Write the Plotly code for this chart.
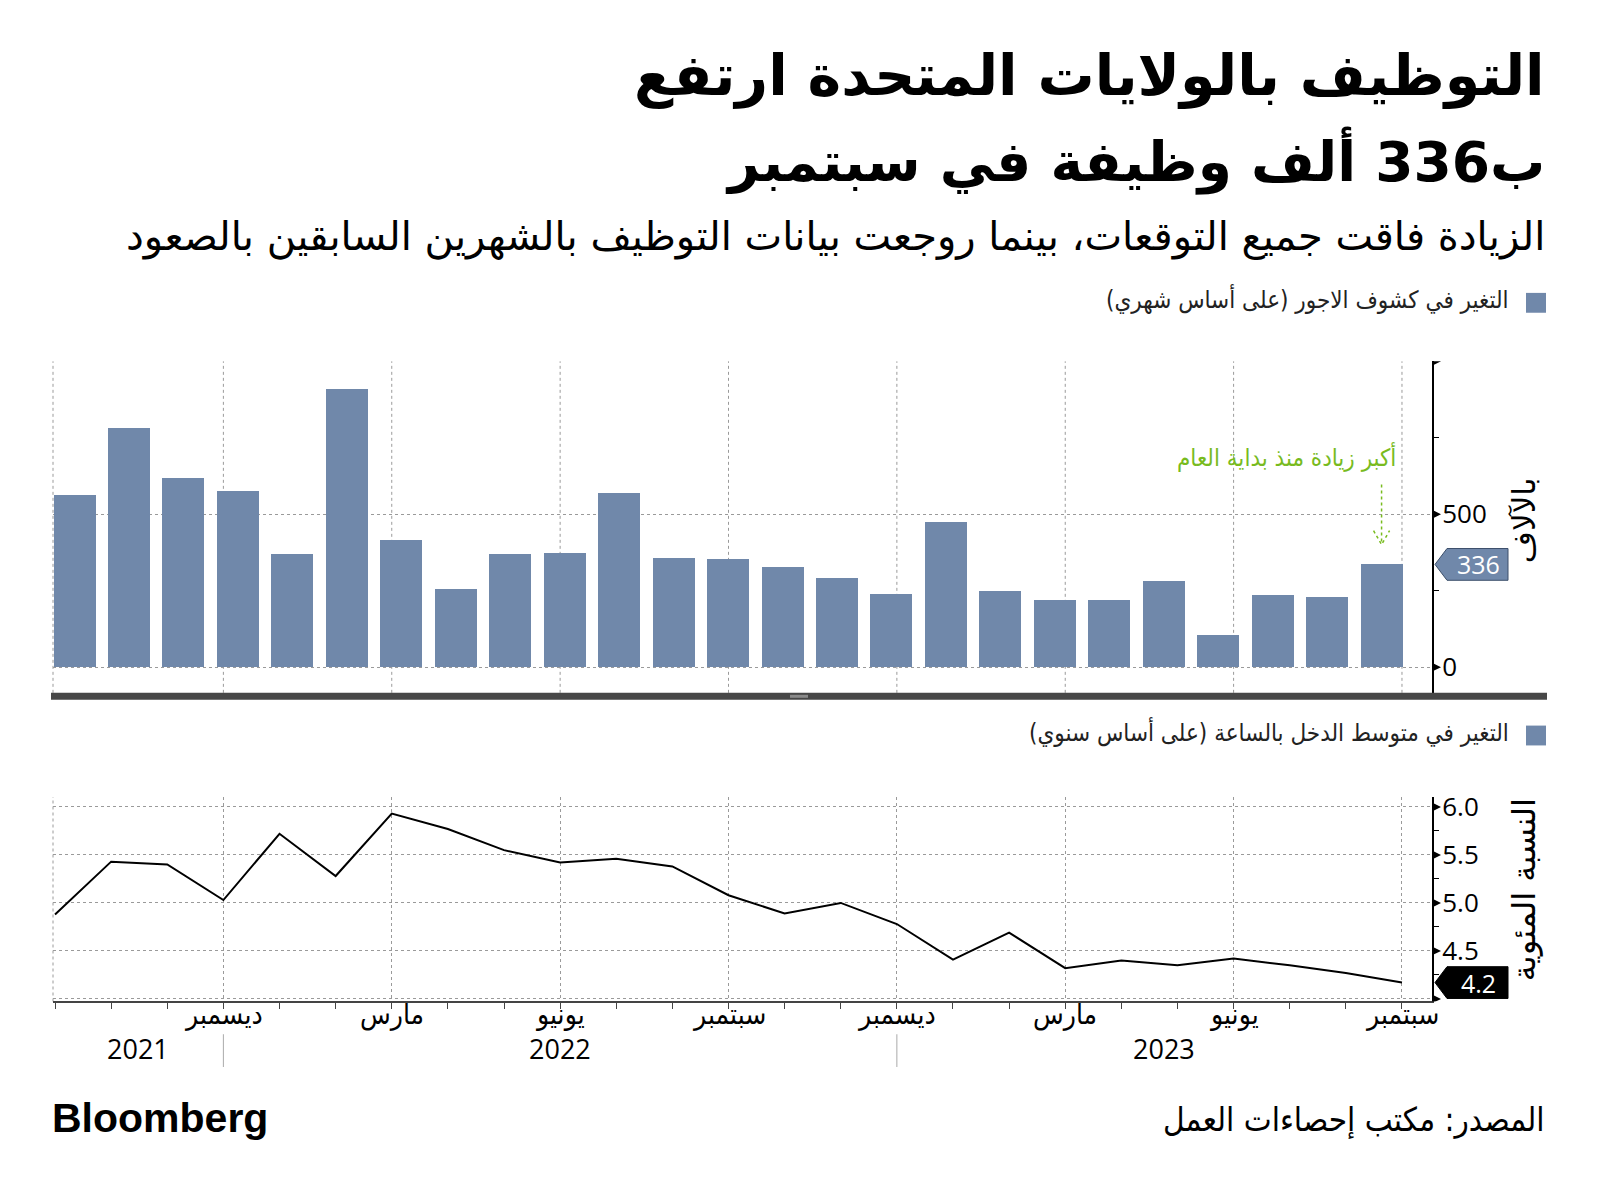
import plotly.graph_objects as go

# ---------------- data ----------------
months_idx = list(range(25))  # Sep 2021 .. Sep 2023
payrolls = [562, 782, 618, 575, 368, 909, 416, 254, 368, 372, 569, 356, 351,
            327, 291, 238, 472, 248, 217, 217, 281, 105, 236, 227, 336]
wages = [4.88, 5.43, 5.40, 5.03, 5.72, 5.28, 5.93, 5.77, 5.55, 5.42, 5.46, 5.38,
         5.08, 4.89, 5.00, 4.78, 4.41, 4.69, 4.32, 4.40, 4.35, 4.42, 4.35, 4.27, 4.17]
quarter_ticks = [3, 6, 9, 12, 15, 18, 21, 24]
quarter_labels = ["ديسمبر", "مارس", "يونيو", "سبتمبر", "ديسمبر", "مارس", "يونيو", "سبتمبر"]
year_labels = ["2021", "2022", "2023"]
year_breaks = [3, 15]

title1 = "التوظيف بالولايات المتحدة ارتفع"
title2 = "ب336 ألف وظيفة في سبتمبر"
subtitle = "الزيادة فاقت جميع التوقعات، بينما روجعت بيانات التوظيف بالشهرين السابقين بالصعود"
legend1 = "التغير في كشوف الاجور (على أساس شهري)"
legend2 = "التغير في متوسط الدخل بالساعة (على أساس سنوي)"
note = "أكبر زيادة منذ بداية العام"
ytitle1 = "بالآلاف"
ytitle2 = "النسبة المئوية"
source = "المصدر: مكتب إحصاءات العمل"

# ---------------- style / layout ----------------
OFF = 8                       # page body margin of the html page
W, H = 1600 - OFF, 1196 - OFF
BAR = "#7088aa"
GRID = "#9a9a9a"
GREEN = "#78bb1e"
AR = "DejaVu Sans"
ARC = "DejaVu Sans Condensed, DejaVu Sans"
NUM = "Open Sans, DejaVu Sans Condensed"

def X(px):
    return (px - OFF) / W

def Y(py):
    return 1 - (py - OFF) / H

PL, PR = 53, 1432
T_TOP, T_BOT = 355, 689
B_TOP, B_BOT = 794, 1000
t_range = [-84, 1000]
b_range = [3.973, 6.103]
x1_range = [-0.395, 24.926]
x2_range = [-0.036, 24.535]
t_ppu = (T_BOT - T_TOP) / (t_range[1] - t_range[0])
b_ppu = (B_BOT - B_TOP) / (b_range[1] - b_range[0])
x1_ppu = (PR - PL) / (x1_range[1] - x1_range[0])

fig = go.Figure()
fig.add_trace(go.Bar(x=months_idx, y=payrolls, width=0.771, marker=dict(color=BAR, line=dict(width=0)),
                     xaxis="x", yaxis="y", hoverinfo="y"))
fig.add_trace(go.Scatter(x=months_idx, y=wages, mode="lines", line=dict(color="black", width=2),
                         xaxis="x2", yaxis="y2", hoverinfo="y"))

shapes = []
ann = []

# top chart vertical gridlines (aligned to the month axis of the lower chart)
for q in quarter_ticks:
    shapes.append(dict(type="line", xref="x2", yref="paper", x0=q, x1=q, y0=Y(T_BOT), y1=Y(T_TOP),
                       line=dict(color=GRID, width=1, dash="dot"), layer="below"))
# left edges dotted
for (a, b) in [(T_TOP, T_BOT), (B_TOP, B_BOT)]:
    shapes.append(dict(type="line", xref="paper", yref="paper", x0=X(PL), x1=X(PL), y0=Y(b), y1=Y(a),
                       line=dict(color=GRID, width=1, dash="dot"), layer="below"))

# separator bar
shapes.append(dict(type="rect", xref="paper", yref="paper", x0=X(51), x1=X(1547), y0=Y(696), y1=Y(689),
                   fillcolor="#474747", line=dict(width=0), layer="above"))
shapes.append(dict(type="rect", xref="paper", yref="paper", x0=X(790), x1=X(808), y0=Y(694), y1=Y(691),
                   fillcolor="#8a8a8a", line=dict(width=0), layer="above"))

# tick triangles on the right axes
def tri(yref, val, ppu):
    d = 4.5 / ppu
    return dict(type="path", xref="paper", yref=yref,
                path=f"M {X(PR)},{val - d} L {X(PR + 9)},{val} L {X(PR)},{val + d} Z",
                fillcolor="black", line=dict(width=0), layer="above")

for v in [0, 500, 1000]:
    shapes.append(tri("y", v, t_ppu))
for v in [4.0, 4.5, 5.0, 5.5, 6.0]:
    shapes.append(tri("y2", v, b_ppu))

# value tags
def tag(yref, val, ppu, color):
    h = 16 / ppu
    return dict(type="path", xref="paper", yref=yref,
                path=(f"M {X(1435)},{val} L {X(1447)},{val + h} L {X(1508)},{val + h} "
                      f"L {X(1508)},{val - h} L {X(1447)},{val - h} Z"),
                fillcolor=color, line=dict(color="#3c4f6a" if color == BAR else "black", width=1),
                layer="above")

shapes.append(tag("y", payrolls[-1], t_ppu, BAR))
shapes.append(tag("y2", wages[-1], b_ppu, "black"))
ann.append(dict(xref="paper", yref="y", x=X(1478), y=payrolls[-1], text=str(payrolls[-1]),
                showarrow=False, font=dict(family=NUM, size=25, color="white"), xanchor="center",
                yanchor="middle"))
ann.append(dict(xref="paper", yref="y2", x=X(1478), y=wages[-1], text=f"{wages[-1]:.1f}",
                showarrow=False, font=dict(family=NUM, size=25, color="white"), xanchor="center",
                yanchor="middle"))

# green note + dotted arrow pointing to last bar
last = months_idx[-1]
y_a0 = (664 - 480) / t_ppu
y_a1 = payrolls[-1] + 20 / t_ppu
dx = 8 / x1_ppu
dy = 14 / t_ppu
shapes.append(dict(type="path", xref="x", yref="y",
                   path=f"M {last},{y_a0} L {last},{y_a1}",
                   line=dict(color=GREEN, width=1.5, dash="dot")))
shapes.append(dict(type="path", xref="x", yref="y",
                   path=f"M {last - dx},{y_a1 + dy} L {last},{y_a1} L {last + dx},{y_a1 + dy}",
                   line=dict(color=GREEN, width=1.5, dash="dot")))
ann.append(dict(xref="x", yref="y", x=last + 0.31, y=(664 - 452) / t_ppu, text=note, showarrow=False,
                xanchor="right", yanchor="middle", font=dict(family=ARC, size=24, color=GREEN)))

# month labels (drawn as text under the axis)
for q, lab in zip(quarter_ticks, quarter_labels):
    ann.append(dict(xref="x2", yref="paper", x=q, y=Y(1013), text=lab, showarrow=False,
                    xanchor="center", yanchor="middle", font=dict(family=ARC, size=28, color="black")))

# year separators and labels
for b in year_breaks:
    shapes.append(dict(type="line", xref="x2", yref="paper", x0=b, x1=b, y0=Y(1066), y1=Y(1033),
                       line=dict(color="#aaaaaa", width=1)))
edges = [x2_range[0]] + year_breaks + [x2_range[1]]
for i, yl in enumerate(year_labels):
    ann.append(dict(xref="x2", yref="paper", x=(edges[i] + edges[i + 1]) / 2, y=Y(1047), text=yl,
                    showarrow=False, xanchor="center", yanchor="middle",
                    font=dict(family=NUM, size=27, color="black")))

# legends (custom, square on the right)
for (txt, yc) in [(legend1, 296), (legend2, 732)]:
    shapes.append(dict(type="rect", xref="paper", yref="paper", x0=X(1526), x1=X(1546),
                       y0=Y(yc + 10), y1=Y(yc - 10), fillcolor=BAR, line=dict(width=0)))
    ann.append(dict(xref="paper", yref="paper", x=X(1511), y=Y(yc - 4), text=txt, showarrow=False,
                    xanchor="right", yanchor="middle", font=dict(family=ARC, size=24, color="#222")))

# y-axis titles (rotated)
ann.append(dict(xref="paper", yref="paper", x=X(1524), y=Y(515), text=ytitle1, textangle=-90,
                showarrow=False, xanchor="center", yanchor="middle",
                font=dict(family=AR, size=31, color="black")))
ann.append(dict(xref="paper", yref="paper", x=X(1524), y=Y(888), text=ytitle2, textangle=-90,
                showarrow=False, xanchor="center", yanchor="middle",
                font=dict(family=AR, size=32, color="black")))

# titles
ann.append(dict(xref="paper", yref="paper", x=X(1547), y=Y(67), text=f"<b>{title1}</b>", showarrow=False,
                xanchor="right", yanchor="middle", font=dict(family=AR, size=57, color="black")))
ann.append(dict(xref="paper", yref="paper", x=X(1547), y=Y(153), text=f"<b>{title2}</b>", showarrow=False,
                xanchor="right", yanchor="middle", font=dict(family=AR, size=55, color="black")))
ann.append(dict(xref="paper", yref="paper", x=X(1547), y=Y(229), text=subtitle, showarrow=False,
                xanchor="right", yanchor="middle", font=dict(family=AR, size=40, color="black")))

# footer
ann.append(dict(xref="paper", yref="paper", x=X(50), y=Y(1117), text="<b>Bloomberg</b>", showarrow=False,
                xanchor="left", yanchor="middle",
                font=dict(family="Liberation Sans, Arial", size=41, color="black")))
ann.append(dict(xref="paper", yref="paper", x=X(1547), y=Y(1119), text=source, showarrow=False,
                xanchor="right", yanchor="middle", font=dict(family=ARC, size=33, color="black")))

fig.update_layout(
    width=W, height=H, margin=dict(l=0, r=0, t=0, b=0),
    paper_bgcolor="white", plot_bgcolor="white", showlegend=False, bargap=0,
    xaxis=dict(domain=[X(PL), X(PR)], range=x1_range, anchor="y", visible=False, fixedrange=True),
    yaxis=dict(domain=[Y(T_BOT), Y(T_TOP)], range=t_range, anchor="x", side="right",
               tickvals=[0, 500], showgrid=True, gridcolor=GRID, griddash="dot", gridwidth=1,
               zeroline=False, showline=True, linecolor="black", linewidth=2, ticks="",
               ticklabelstandoff=3, tickfont=dict(family=NUM, size=26, color="black"),
               minor=dict(tickvals=[250, 750], ticks="outside", ticklen=5, tickcolor="black",
                          showgrid=False)),
    xaxis2=dict(domain=[X(PL), X(PR)], range=x2_range, anchor="y2", tickvals=quarter_ticks,
                ticktext=[""] * len(quarter_ticks), showgrid=True, gridcolor=GRID, griddash="dot",
                gridwidth=1, zeroline=False, showline=True, linecolor="#444", linewidth=2,
                ticks="outside", ticklen=6, tickcolor="#444",
                minor=dict(tick0=0, dtick=1, ticks="outside", ticklen=6, tickcolor="#444",
                           showgrid=False)),
    yaxis2=dict(domain=[Y(B_BOT), Y(B_TOP)], range=b_range, anchor="x2", side="right",
                tickvals=[4.0, 4.5, 5.0, 5.5, 6.0], ticktext=["", "4.5", "5.0", "5.5", "6.0"],
                showgrid=True, gridcolor=GRID, griddash="dot", gridwidth=1, zeroline=False,
                showline=True, linecolor="black", linewidth=2, ticks="", ticklabelstandoff=3,
                tickfont=dict(family=NUM, size=26, color="black"),
                minor=dict(tickvals=[4.25, 4.75, 5.25, 5.75], ticks="outside", ticklen=5,
                           tickcolor="black", showgrid=False)),
    shapes=shapes, annotations=ann,
)

fig.write_html("out.html")
